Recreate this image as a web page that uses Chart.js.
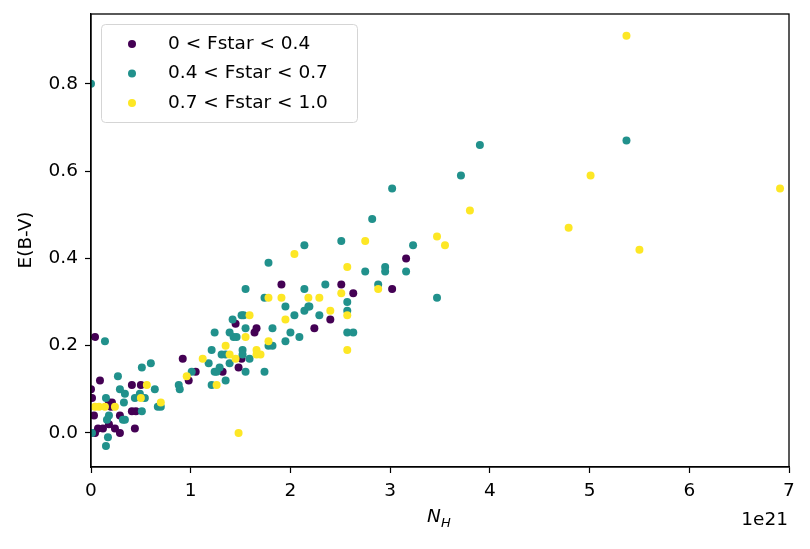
<!DOCTYPE html>
<html>
<head>
<meta charset="utf-8">
<script src="https://cdn.jsdelivr.net/npm/chart.js@4"></script>
<style>
  body { margin: 0; background: #fff; }
  #wrap { width: 810px; height: 549px; position: relative; }
</style>
</head>
<body>
<div id="wrap"><canvas id="myChart"></canvas></div>
<script>
// N_H in units of 1e21, E(B-V) in mag
var labels = ["0 < Fstar < 0.4", "0.4 < Fstar < 0.7", "0.7 < Fstar < 1.0"];
var colors = ['#440154', '#21918c', '#fde725'];

var nhLow  = [0.00, 0.01, 0.04, 0.09, 0.04, 0.07, 0.12, 0.18, 0.24, 0.29, 0.44, 0.18, 0.21, 0.29, 0.41, 0.45, 0.41, 0.50, 0.03, 0.20,
              0.92, 1.05, 0.98, 1.32, 1.48, 1.51, 1.45, 1.64, 1.66, 1.91, 2.51, 2.63, 2.40, 2.24, 3.16, 3.02];
var ebvLow = [0.10, 0.08, 0.22, 0.12, 0.00, 0.01, 0.01, 0.02, 0.01, 0.00, 0.01, 0.07, 0.07, 0.04, 0.05, 0.05, 0.11, 0.11, 0.04, 0.06,
              0.17, 0.14, 0.12, 0.14, 0.15, 0.17, 0.25, 0.23, 0.24, 0.34, 0.34, 0.32, 0.26, 0.24, 0.40, 0.33];

var nhMid  = [0.00, 0.14, 0.60, 0.51, 1.01, 0.27, 0.88, 0.89, 0.29, 0.34, 0.64, 0.49, 0.15, 0.44, 0.54, 0.33, 0.67, 0.70, 0.51, 0.18,
              0.16, 0.32, 0.34, 0.01, 0.17, 0.15,
              2.14, 1.78, 1.55, 1.74, 2.14, 1.95, 2.04, 2.14, 2.18, 1.53, 1.51, 1.42, 1.55, 1.82, 1.24, 1.39, 1.43, 1.46, 2.00, 2.09,
              1.95, 1.78, 1.82, 1.52, 1.21, 1.31, 1.35, 1.52, 1.59, 1.39, 1.18, 1.29, 1.24, 1.26, 1.55, 1.74, 1.35, 1.21,
              3.02, 2.82, 2.51, 3.23, 2.75, 2.95, 2.95, 3.16, 2.88, 2.35, 2.57, 2.57, 2.19, 2.29, 2.57, 2.63,
              5.37, 3.90, 3.71, 3.47];
var ebvMid = [0.80, 0.21, 0.16, 0.15, 0.14, 0.13, 0.11, 0.10, 0.10, 0.09, 0.10, 0.09, 0.08, 0.08, 0.08, 0.07, 0.06, 0.06, 0.05, 0.04,
              0.03, 0.03, 0.03, 0.00, -0.01, -0.03,
              0.43, 0.39, 0.33, 0.31, 0.33, 0.29, 0.27, 0.28, 0.29, 0.27, 0.27, 0.26, 0.24, 0.24, 0.23, 0.23, 0.22, 0.22, 0.23, 0.22,
              0.21, 0.20, 0.20, 0.19, 0.19, 0.18, 0.18, 0.18, 0.17, 0.16, 0.16, 0.15, 0.14, 0.14, 0.14, 0.14, 0.12, 0.11,
              0.56, 0.49, 0.44, 0.43, 0.37, 0.38, 0.37, 0.37, 0.34, 0.34, 0.30, 0.28, 0.29, 0.27, 0.23, 0.23,
              0.67, 0.66, 0.59, 0.31];

var nhHigh  = [0.04, 0.08, 0.14, 0.24, 0.56, 0.50, 0.70, 1.12, 0.96,
               2.04, 1.78, 1.91, 2.18, 1.59, 1.95, 1.55, 1.78, 1.35, 1.39, 1.45, 1.66, 1.70, 1.66, 1.26, 1.48,
               2.75, 2.57, 2.29, 2.51, 2.88, 2.40, 2.57, 2.57,
               5.37, 5.01, 6.91, 3.80, 4.79, 3.47, 3.55, 5.50];
var ebvHigh = [0.06, 0.06, 0.06, 0.06, 0.11, 0.08, 0.07, 0.17, 0.13,
               0.41, 0.31, 0.31, 0.31, 0.27, 0.26, 0.22, 0.21, 0.20, 0.18, 0.17, 0.19, 0.18, 0.18, 0.11, 0.00,
               0.44, 0.38, 0.31, 0.32, 0.33, 0.28, 0.27, 0.19,
               0.91, 0.59, 0.56, 0.51, 0.47, 0.45, 0.43, 0.42];

var xTicks = [0, 1, 2, 3, 4, 5, 6, 7];
var yTicks = [0.0, 0.2, 0.4, 0.6, 0.8];

function pts(xs, ys) {
    return xs.map(function (x, i) { return { x: x, y: ys[i] }; });
}

var FONT = 'DejaVu Sans';
var FS = 18.5;

// frame, legend box and axis labels like matplotlib
var extras = {
    id: 'extras',
    afterDraw: function (chart) {
        var c = chart.ctx, a = chart.chartArea;
        c.save();
        c.strokeStyle = '#000';
        c.lineWidth = 1.3;
        c.strokeRect(a.left, a.top, a.right - a.left, a.bottom - a.top);

        // legend
        var lx = a.left + 10, ly = a.top + 10, lw = 256, lh = 98;
        c.fillStyle = 'rgba(255,255,255,0.8)';
        c.strokeStyle = '#d5d5d5';
        c.lineWidth = 1;
        c.beginPath();
        c.roundRect(lx + 0.5, ly + 0.5, lw, lh, 4);
        c.fill();
        c.stroke();
        c.font = FS + 'px ' + FONT;
        c.textBaseline = 'middle';
        c.textAlign = 'left';
        for (var i = 0; i < labels.length; i++) {
            var yy = ly + 20 + i * 29.5;
            c.fillStyle = colors[i];
            c.beginPath();
            c.arc(lx + 31, yy, 4, 0, Math.PI * 2);
            c.fill();
            c.fillStyle = '#000';
            c.fillText(labels[i], lx + 67, yy);
        }

        // x label N_H
        c.fillStyle = '#000';
        c.textBaseline = 'alphabetic';
        c.font = 'italic ' + FS + 'px ' + FONT;
        c.fillText('N', 427, 522);
        c.font = 'italic 13px ' + FONT;
        c.fillText('H', 441, 527);
        // offset text
        c.font = FS + 'px ' + FONT;
        c.textAlign = 'right';
        c.fillText('1e21', 788, 525);
        // y label
        c.translate(31, 240);
        c.rotate(-Math.PI / 2);
        c.textAlign = 'center';
        c.fillText('E(B-V)', 0, 0);
        c.restore();
    }
};

var ctx = document.getElementById("myChart").getContext('2d');
var myChart = new Chart(ctx, {
    type: 'scatter',
    data: {
        datasets: [
            { label: labels[0], data: pts(nhLow, ebvLow), backgroundColor: colors[0], order: 2 },
            { label: labels[1], data: pts(nhMid, ebvMid), backgroundColor: colors[1], order: 1 },
            { label: labels[2], data: pts(nhHigh, ebvHigh), backgroundColor: colors[2], order: 0 }
        ]
    },
    options: {
        responsive: true,
        maintainAspectRatio: false,
        animation: false,
        elements: {
            point: { radius: 4, borderWidth: 0, hoverRadius: 4 }
        },
        layout: {
            padding: { left: 0, right: 21, top: 14, bottom: 0 }
        },
        plugins: {
            legend: { display: false },
            tooltip: { enabled: false }
        },
        scales: {
            x: {
                type: 'linear',
                min: 0,
                max: 7,
                afterBuildTicks: function (s) { s.ticks = xTicks.map(function (v) { return { value: v }; }); },
                afterFit: function (s) { s.height = 82; s.paddingLeft = 0; s.paddingRight = 0; },
                grid: { drawOnChartArea: false, drawTicks: true, tickLength: 6, color: '#000', tickWidth: 1.2 },
                border: { display: true, color: '#000', width: 1.3 },
                ticks: { color: '#000', font: { family: FONT, size: FS }, padding: 7, maxRotation: 0,
                         callback: function (v) { return String(v); } }
            },
            y: {
                type: 'linear',
                min: -0.078,
                max: 0.96,
                afterBuildTicks: function (s) { s.ticks = yTicks.map(function (v) { return { value: v }; }); },
                afterFit: function (s) { s.width = 91; s.paddingTop = 0; s.paddingBottom = 0; },
                grid: { drawOnChartArea: false, drawTicks: true, tickLength: 6, color: '#000', tickWidth: 1.2 },
                border: { display: true, color: '#000', width: 1.3 },
                ticks: { color: '#000', font: { family: FONT, size: FS }, padding: 7,
                         callback: function (v) { return v.toFixed(1); } }
            }
        }
    },
    plugins: [extras]
});
</script>
</body>
</html>
